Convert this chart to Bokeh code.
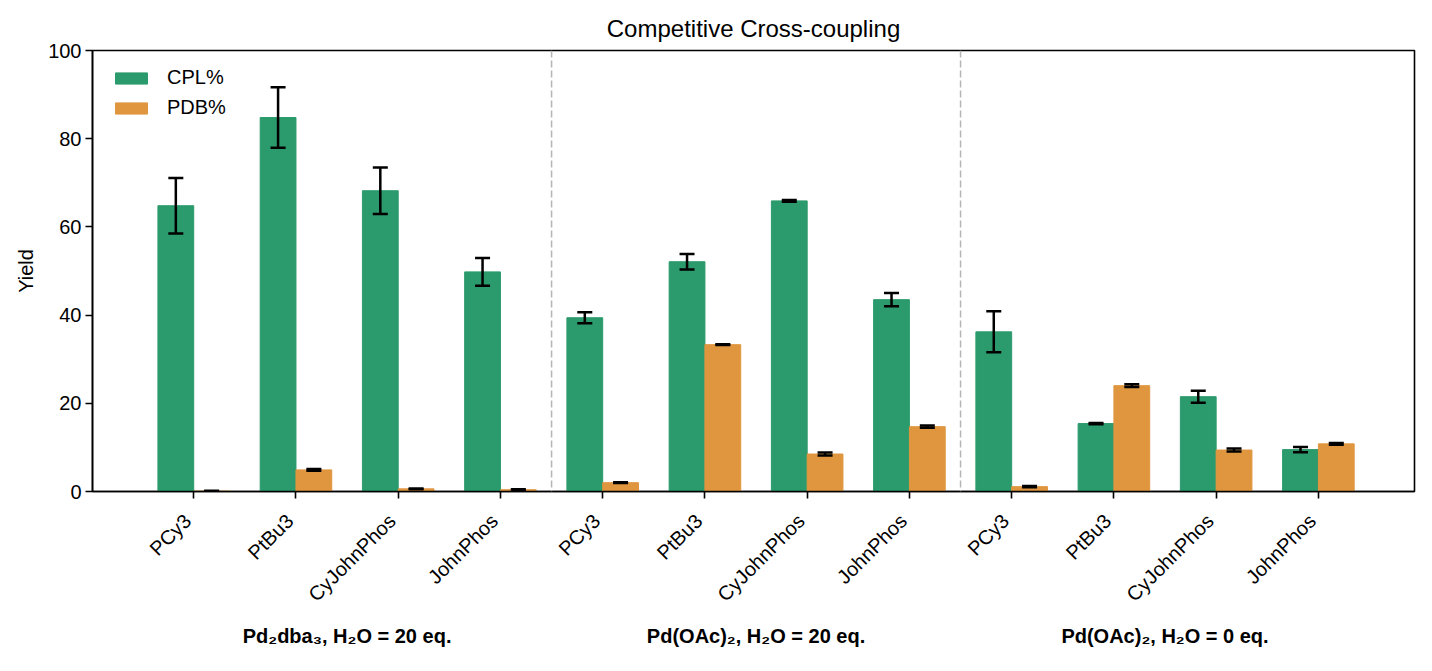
import math
from bokeh.plotting import figure
from bokeh.models import (ColumnDataSource, Whisker, TeeHead, Span, LinearAxis,
                          FixedTicker, Range1d)
from bokeh.embed import file_html
from bokeh.resources import INLINE

# ---- data ----
ligands = ["PCy3", "PtBu3", "CyJohnPhos", "JohnPhos",
           "PCy3", "PtBu3", "CyJohnPhos", "JohnPhos",
           "PCy3", "PtBu3", "CyJohnPhos", "JohnPhos"]
groups = ["Pd₂dba₃, H₂O = 20 eq.", "Pd(OAc)₂, H₂O = 20 eq.", "Pd(OAc)₂, H₂O = 0 eq."]
cpl = [64.8, 84.8, 68.2, 49.8, 39.4, 52.1, 65.9, 43.5, 36.2, 15.4, 21.5, 9.5]
cpl_err = [6.3, 6.85, 5.25, 3.15, 1.25, 1.75, 0.2, 1.5, 4.65, 0.15, 1.35, 0.6]
pdb = [0.1, 4.9, 0.6, 0.4, 2.0, 33.3, 8.5, 14.7, 1.1, 24.0, 9.4, 10.8]
pdb_err = [0.05, 0.2, 0.1, 0.1, 0.1, 0.1, 0.35, 0.25, 0.15, 0.3, 0.35, 0.2]

GREEN = "#2b9a6c"
ORANGE = "#e0963f"
FONT = "Liberation Sans"
W = 0.35
LABEL_SHIFT = -0.06   # rotated labels end slightly left of their tick

xs = list(range(len(ligands)))
x_cpl = [x - W / 2 for x in xs]
x_pdb = [x + W / 2 for x in xs]

p = figure(width=1424, height=667, output_backend="svg", toolbar_location=None,
           x_range=Range1d(-0.99, 11.94), y_range=Range1d(0, 100),
           min_border_left=92, min_border_right=10, min_border_top=50,
           min_border_bottom=176, title="Competitive Cross-coupling")

p.vbar(x=x_cpl, top=cpl, width=W, color=GREEN, legend_label="CPL%")
p.vbar(x=x_pdb, top=pdb, width=W, color=ORANGE, legend_label="PDB%")

for xx, vv, ee in ((x_cpl, cpl, cpl_err), (x_pdb, pdb, pdb_err)):
    src = ColumnDataSource(dict(base=xx,
                                upper=[v + e for v, e in zip(vv, ee)],
                                lower=[v - e for v, e in zip(vv, ee)]))
    wk = Whisker(source=src, base="base", upper="upper", lower="lower",
                 line_color="black", line_width=2.5, level="annotation",
                 upper_head=TeeHead(size=15, line_color="black", line_width=2.5),
                 lower_head=TeeHead(size=15, line_color="black", line_width=2.5))
    p.add_layout(wk)

for loc in (3.5, 7.5):
    p.add_layout(Span(location=loc, dimension="height", line_color="#b5b5b5",
                      line_dash="7 3", line_width=1.5))

p.xgrid.visible = False
p.ygrid.visible = False
p.outline_line_color = "black"
p.outline_line_width = 1.6
p.background_fill_color = "white"

p.title.align = "center"
p.title.text_font = FONT
p.title.text_font_size = "24px"
p.title.text_font_style = "normal"
p.title.text_color = "black"
p.title.standoff = 17

# tick marks only
xa = p.xaxis[0]
xa.ticker = FixedTicker(ticks=xs)
xa.major_label_overrides = {i: "" for i in xs}
xa.major_label_standoff = 0
xa.minor_tick_line_color = None

ya = p.yaxis[0]
ya.ticker = FixedTicker(ticks=[0, 20, 40, 60, 80, 100])
ya.axis_label = "Yield"
ya.axis_label_text_font = FONT
ya.axis_label_text_font_size = "20px"
ya.axis_label_text_font_style = "normal"
ya.axis_label_text_color = "black"
ya.axis_label_standoff = 8
ya.minor_tick_line_color = None
ya.major_label_standoff = 4

for ax in (xa, ya):
    ax.axis_line_color = "black"
    ax.axis_line_width = 1.6
    ax.major_tick_line_color = "black"
    ax.major_tick_line_width = 1.6
    ax.major_tick_in = 0
    ax.major_tick_out = 7
    ax.major_label_text_font = FONT
    ax.major_label_text_font_size = "20px"
    ax.major_label_text_color = "black"

# rotated ligand labels
lab_ticks = [x + LABEL_SHIFT for x in xs]
lax = LinearAxis(ticker=FixedTicker(ticks=lab_ticks),
                 major_label_overrides={t: lab for t, lab in zip(lab_ticks, ligands)})
lax.axis_line_color = None
lax.major_tick_line_color = None
lax.minor_tick_line_color = None
lax.major_label_orientation = math.pi / 4
lax.major_label_standoff = 13
lax.major_label_text_font = FONT
lax.major_label_text_font_size = "20px"
lax.major_label_text_color = "black"
p.add_layout(lax, "below")

# group labels
gax = LinearAxis(ticker=FixedTicker(ticks=[1.5, 5.5, 9.5]),
                 major_label_overrides={1.5: groups[0], 5.5: groups[1], 9.5: groups[2]})
gax.axis_line_color = None
gax.major_tick_line_color = None
gax.minor_tick_line_color = None
gax.major_label_standoff = 2
gax.major_label_text_font = FONT
gax.major_label_text_font_size = "20px"
gax.major_label_text_font_style = "bold"
gax.major_label_text_color = "black"
p.add_layout(gax, "below")

lg = p.legend[0]
lg.location = (19, 372)
lg.border_line_color = None
lg.background_fill_alpha = 0
lg.padding = 0
lg.margin = 0
lg.glyph_width = 40
lg.glyph_height = 14
lg.label_height = 14
lg.spacing = 7
lg.label_standoff = 16
lg.label_text_font = FONT
lg.label_text_font_size = "20px"
lg.label_text_color = "black"

open("out.html", "w").write(file_html(p, INLINE))
